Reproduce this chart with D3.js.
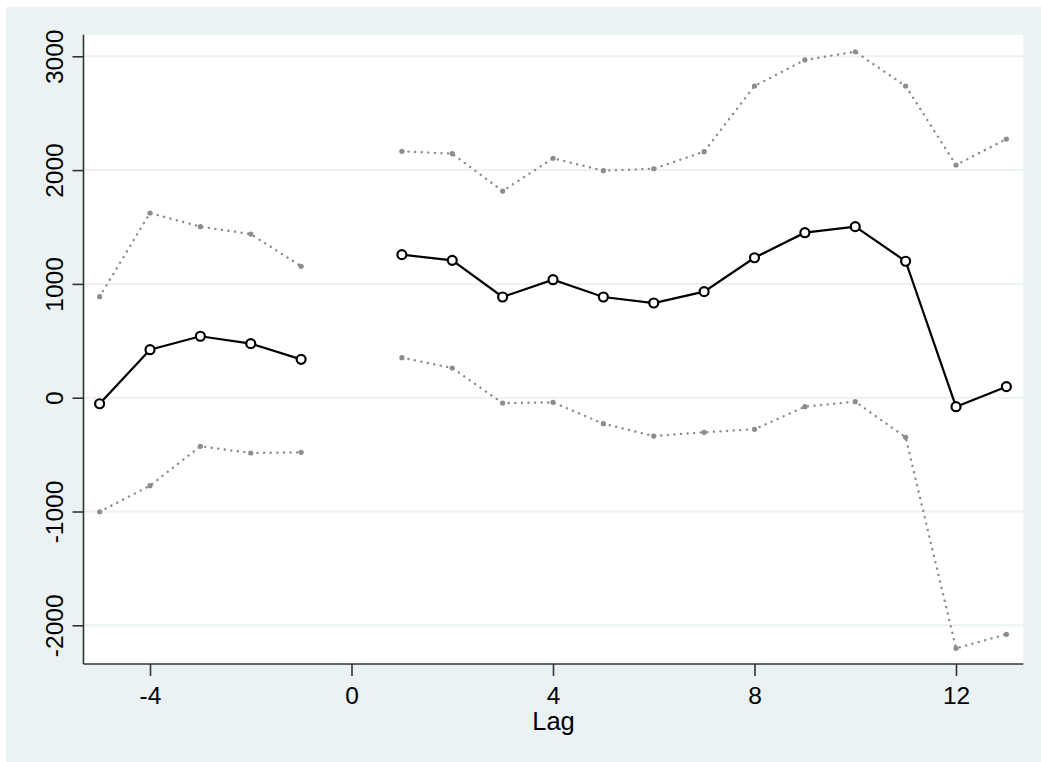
<!DOCTYPE html>
<html>
<head>
<meta charset="utf-8">
<script src="https://cdn.jsdelivr.net/npm/d3@7"></script>
<style>
  html, body { margin: 0; padding: 0; background: #fff; }
  text { font-family: "Liberation Sans", Arial, sans-serif; fill: #000; }
</style>
</head>
<body>
<svg id="chart" width="1041" height="762"></svg>
<script>
// lags, two segments (no lag 0)
const lagsBefore = [-5, -4, -3, -2, -1];
const lagsAfter = [1, 2, 3, 4, 5, 6, 7, 8, 9, 10, 11, 12, 13];

const coefBefore = [-53, 422, 540, 475, 337];
const upperBefore = [888, 1623, 1503, 1438, 1155];
const lowerBefore = [-1002, -773, -427, -486, -480];

const coefAfter = [1257, 1207, 885, 1037, 885, 832, 932, 1230, 1450, 1503, 1199, -79, 97];
const upperAfter = [2165, 2144, 1816, 2104, 1995, 2012, 2162, 2739, 2968, 3040, 2739, 2045, 2273];
const lowerAfter = [352, 261, -47, -41, -228, -337, -304, -278, -79, -35, -348, -2202, -2079];

const xTicks = [-4, 0, 4, 8, 12];
const yTicks = [-2000, -1000, 0, 1000, 2000, 3000];

const svg = d3.select('#chart');
const bg = '#eaf2f3';

svg.append('rect').attr('x', 6).attr('y', 7).attr('width', 1035).attr('height', 755).attr('fill', bg);

const plot = { left: 83.5, top: 34.7, right: 1023.3, bottom: 664 };
svg.append('rect')
  .attr('x', plot.left).attr('y', plot.top)
  .attr('width', plot.right - plot.left).attr('height', plot.bottom - plot.top)
  .attr('fill', '#fff');

const x = d3.scaleLinear().domain([-4, 12]).range([150, 956]);
const y = d3.scaleLinear().domain([-2000, 3000]).range([625.3, 56.3]);

// gridlines
svg.append('g').selectAll('line').data(yTicks).join('line')
  .attr('x1', plot.left).attr('x2', plot.right)
  .attr('y1', d => y(d)).attr('y2', d => y(d))
  .attr('stroke', bg).attr('stroke-width', 2);

// axes (plain hyphen minus like the original)
const fmt = d => String(d);

const yAxis = svg.append('g').attr('transform', `translate(${plot.left},0)`)
  .call(d3.axisLeft(y).tickValues(yTicks).tickSize(11).tickFormat(fmt));
yAxis.select('.domain').attr('d', `M0,${plot.top}V${plot.bottom}`);
yAxis.selectAll('.tick text')
  .attr('transform', 'rotate(-90)')
  .attr('x', 0).attr('y', -21).attr('dy', 0)
  .attr('text-anchor', 'middle')
  .style('font-size', '24.5px');

const xAxis = svg.append('g').attr('transform', `translate(0,${plot.bottom})`)
  .call(d3.axisBottom(x).tickValues(xTicks).tickSize(12).tickFormat(fmt));
xAxis.select('.domain').attr('d', `M${plot.left},0H${plot.right}`);
xAxis.selectAll('.tick text').attr('y', 40).attr('dy', 0).style('font-size', '24.5px');

svg.selectAll('.domain, .tick line').attr('stroke', '#333').attr('stroke-width', 1.6);

svg.append('text').attr('x', 553.5).attr('y', 730)
  .attr('text-anchor', 'middle').style('font-size', '25.5px').text('Lag');

const line = d3.line().x(d => x(d[0])).y(d => y(d[1]));
const segments = [
  { lags: lagsBefore, coef: coefBefore, upper: upperBefore, lower: lowerBefore },
  { lags: lagsAfter, coef: coefAfter, upper: upperAfter, lower: lowerAfter }
];

segments.forEach(s => {
  [s.upper, s.lower].forEach(band => {
    const pts = s.lags.map((l, i) => [l, band[i]]);
    svg.append('path').attr('d', line(pts))
      .attr('fill', 'none').attr('stroke', '#8c8c8c').attr('stroke-width', 2.4)
      .attr('stroke-linecap', 'round').attr('stroke-dasharray', '0.1,6.5');
    svg.append('g').selectAll('circle').data(pts).join('circle')
      .attr('cx', d => x(d[0])).attr('cy', d => y(d[1])).attr('r', 2.6)
      .attr('fill', '#8c8c8c');
  });
  const pts = s.lags.map((l, i) => [l, s.coef[i]]);
  svg.append('path').attr('d', line(pts))
    .attr('fill', 'none').attr('stroke', '#000').attr('stroke-width', 2.2);
  svg.append('g').selectAll('circle').data(pts).join('circle')
    .attr('cx', d => x(d[0])).attr('cy', d => y(d[1])).attr('r', 4.5)
    .attr('fill', '#fff').attr('stroke', '#000').attr('stroke-width', 2.2);
});
</script>
</body>
</html>
